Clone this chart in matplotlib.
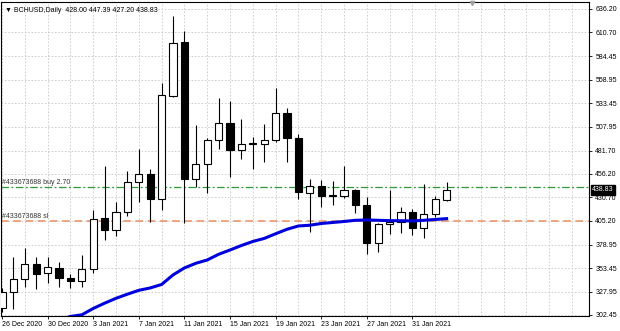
import matplotlib
matplotlib.use("Agg")
import matplotlib.pyplot as plt
from matplotlib.transforms import blended_transform_factory

plt.rcParams['font.family'] = ['Liberation Sans', 'DejaVu Sans']

# daily BCHUSD bars, 26 Dec 2020 .. 3 Feb 2021
opens = [310.1, 327.5, 341.7, 357.7, 348.6, 354.0, 342.5, 339.5, 352.3, 407.9,
         395.1, 414.8, 447.5, 456.2, 429.3, 541.6, 600.2, 450.4, 467.1, 493.3,
         511.5, 482.4, 488.9, 488.6, 493.3, 523.1, 495.2, 435.8, 443.1, 432.6,
         432.6, 438.8, 422.4, 381.3, 401.7, 404.2, 414.5, 397.7, 412.6, 428.00]
highs = [332.0, 366.0, 375.2, 366.0, 365.4, 360.6, 346.8, 367.9, 417.0, 465.0,
         426.0, 459.5, 483.8, 461.4, 555.8, 628.9, 612.5, 509.7, 495.5, 538.8,
         535.9, 516.2, 496.3, 510.8, 549.7, 527.9, 499.9, 450.4, 449.7, 448.6,
         465.3, 440.0, 431.5, 402.5, 438.8, 419.9, 417.7, 445.0, 432.6, 447.39]
lows = [306.0, 309.0, 333.3, 330.5, 337.7, 332.6, 331.6, 332.6, 347.9, 384.2,
        388.6, 410.4, 425.4, 404.2, 417.0, 539.9, 402.5, 442.4, 435.2, 483.2,
        453.3, 472.6, 461.4, 469.6, 491.0, 469.6, 429.0, 393.3, 419.9, 422.4,
        429.7, 413.4, 369.0, 371.5, 390.8, 391.5, 389.7, 386.7, 409.0, 427.20]
closes = [327.5, 341.7, 357.7, 347.2, 354.5, 342.5, 339.8, 352.6, 407.1, 395.1,
          414.8, 447.5, 456.2, 429.3, 542.4, 599.4, 450.4, 466.8, 493.3, 511.5,
          482.4, 488.9, 490.4, 493.3, 523.1, 495.2, 436.9, 443.1, 432.6, 433.4,
          438.8, 422.4, 381.3, 401.7, 404.2, 414.5, 397.7, 412.3, 429.0, 438.83]

# moving average, from bar 5 on
ma_start = 5
ma_values = [297.0, 300.8, 302.6, 309.5, 315.3, 320.6, 325.1, 329.3, 331.9, 335.7,
             346.1, 353.7, 358.8, 362.4, 368.6, 373.3, 378.2, 382.6, 385.9, 391.0,
             395.9, 399.5, 400.3, 402.2, 403.3, 404.4, 405.7, 406.0, 405.7, 405.3,
             405.2, 405.0, 405.7, 406.6, 407.5]

date_labels = ['26 Dec 2020', '30 Dec 2020', '3 Jan 2021', '7 Jan 2021', '11 Jan 2021',
               '15 Jan 2021', '19 Jan 2021', '23 Jan 2021', '27 Jan 2021', '31 Jan 2021']
price_ticks = [636.20, 610.70, 584.45, 558.95, 533.45, 507.95, 481.70, 456.20,
               430.70, 405.20, 378.95, 353.45, 327.95, 302.45]

buy_price = 441.7
sl_price = 405.0
last_price = 438.83

fig = plt.figure(figsize=(6.2, 3.31), dpi=100)
ax = fig.add_axes([1 / 620, 1 - 316 / 331, 588 / 620, 314 / 331])

n = len(opens)
x = list(range(n))
mixed = blended_transform_factory(ax.transAxes, ax.transData)

# grid
for gx in range(0, 52, 2):
    ax.axvline(gx, color='#c8c8c8', lw=0.6, ls=(0, (2, 2)), zorder=0)
for p in price_ticks:
    ax.axhline(p, color='#c8c8c8', lw=0.6, ls=(0, (2, 2)), zorder=0)

# order lines
ax.axhline(buy_price, color='#2e9a3a', lw=0.9, ls=(0, (6, 2, 1.5, 2)), zorder=1)
ax.axhline(sl_price, color='#e8915f', lw=1.1, ls=(0, (5, 3)), zorder=1)
ax.text(1.3 / 588, buy_price + 1.5, '#433673688 buy 2.70', transform=mixed,
        fontsize=5, color='#333333', va='bottom', ha='left')
ax.text(1.3 / 588, sl_price + 1.5, '#433673688 sl', transform=mixed,
        fontsize=5, color='#333333', va='bottom', ha='left')

# candles
ax.vlines(x, lows, highs, color='black', lw=0.8, zorder=2)
for i in x:
    o, c = opens[i], closes[i]
    bottom = min(o, c)
    h = max(abs(c - o), 0.4)
    fc = 'white' if c >= o else 'black'
    ax.bar(i, h, bottom=bottom, width=0.62, color=fc, edgecolor='black', lw=0.8, zorder=3)

# moving average
ax.plot(range(ma_start, ma_start + len(ma_values)), ma_values, color='#0000dd', lw=2.2, zorder=4)

ax.set_xlim(-0.088, 51.49)
ax.set_ylim(301.3, 643.8)

ax.set_xticks(range(0, 40, 4))
ax.set_xticklabels(date_labels, ha='left')
ax.tick_params(axis='x', length=2, width=0.6, pad=1.5, labelsize=5)

ax.yaxis.tick_right()
ax.set_yticks(price_ticks)
ax.set_yticklabels(['%.2f' % p for p in price_ticks])
ax.tick_params(axis='y', length=2, width=0.6, pad=2.5, labelsize=5)

for s in ax.spines.values():
    s.set_linewidth(0.8)

# current price tag
ax.text(1.0 + 3 / 588, last_price, '%.2f' % last_price, transform=mixed,
        fontsize=5, color='white', va='center', ha='left',
        bbox=dict(boxstyle='square,pad=0.2', fc='black', ec='black'))

# title
ax.text(4 / 588, 1 - 8 / 314, '\u25bc BCHUSD,Daily  428.00 447.39 427.20 438.83', transform=ax.transAxes,
        fontsize=5, color='black', va='center', ha='left')

# chart shift marker
ax.plot([41.2], [642.5], marker='v', color='#a0a0a0', mec='#a0a0a0', ms=3, clip_on=False, zorder=5)

fig.savefig('out.png', dpi=100)
